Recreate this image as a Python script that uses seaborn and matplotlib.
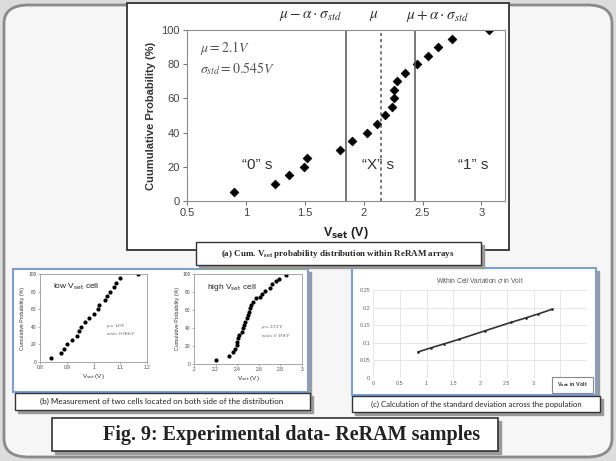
import seaborn as sns
import matplotlib.pyplot as plt
from matplotlib.patches import Rectangle, FancyBboxPatch

# (a) cumulative Vset distribution over the array
vset_main = [0.90, 1.25, 1.37, 1.49, 1.52, 1.80, 1.90, 2.03, 2.11, 2.18,
             2.24, 2.255, 2.26, 2.28, 2.355, 2.45, 2.55, 2.63, 2.75, 3.06]
prob_main = [5, 10, 15, 20, 25, 30, 35, 40, 45, 50,
             55, 60, 65, 70, 75, 80, 85, 90, 95, 100]
bounds = [1.85, 2.15, 2.44]   # mu - a*sigma, mu, mu + a*sigma
region_labels = ['“0” s', '“X” s', '“1” s']
region_x = [1.10, 2.12, 2.93]

# (b) two single cells
low_vset = [0.84, 0.879, 0.888, 0.90, 0.92, 0.94, 0.945, 0.953, 0.97, 0.984,
            1.00, 1.016, 1.022, 1.044, 1.052, 1.062, 1.078, 1.083, 1.10, 1.165]
low_prob = [5, 10, 15, 20, 25, 30, 35, 40, 45, 50,
            55, 60, 65, 70, 75, 80, 85, 90, 95, 100]
high_vset = [2.20, 2.324, 2.36, 2.38, 2.395, 2.40, 2.41, 2.42, 2.44, 2.45,
             2.46, 2.475, 2.49, 2.50, 2.51, 2.52, 2.53, 2.55, 2.57, 2.61,
             2.63, 2.66, 2.70, 2.725, 2.76, 2.79, 2.85]
high_prob = [5, 9, 13, 17, 21, 25, 29, 32, 36, 40,
             43, 47, 51, 54, 58, 62, 66, 69, 73, 75,
             78, 81, 85, 89, 92, 95, 99]

# (c) within-cell sigma vs Vset
sigma_vset = [0.84, 1.09, 1.33, 1.61, 2.09, 2.58, 2.86, 3.09, 3.34]
sigma_val = [0.074, 0.086, 0.097, 0.110, 0.134, 0.158, 0.171, 0.182, 0.195]

W, H = 616, 461
sns.set_style("white")
plt.rcParams['font.family'] = ['Liberation Sans', 'DejaVu Sans']
plt.rcParams['mathtext.fontset'] = 'dejavusans'

fig = plt.figure(figsize=(W / 100, H / 100), dpi=100)
fig.patch.set_facecolor('#dcdcdc')


def px_axes(l, t, r, b):
    return fig.add_axes([l / W, 1 - b / H, (r - l) / W, (b - t) / H])


def px_box(l, t, r, b, z=-5, shadow=False, **kw):
    if shadow:
        fig.add_artist(Rectangle(((l + 3) / W, 1 - (b + 3) / H), (r - l) / W, (b - t) / H,
                                 transform=fig.transFigure, color='#9a9a9a', zorder=z - 0.5))
    fig.add_artist(Rectangle((l / W, 1 - b / H), (r - l) / W, (b - t) / H,
                             transform=fig.transFigure, zorder=z, **kw))


def px_text(x, y, s, **kw):
    fig.text(x / W, 1 - y / H, s, ha='center', va='center', **kw)


# outer rounded frame
fig.add_artist(FancyBboxPatch((4 / W, 4 / H), 608 / W, 452 / H,
                              boxstyle='round,pad=0,rounding_size=0.04',
                              transform=fig.transFigure, fc='#f6f6f6', ec='#8a8a8a',
                              lw=2, zorder=-10))

# panel frames
px_box(127, 3, 509, 250, fc='white', ec='#333333', lw=1.3)
px_box(13, 269, 308, 392, fc='white', ec='#7b9fd6', lw=1.5, shadow=True)
px_box(352, 268, 596, 395, fc='white', ec='#7b9fd6', lw=1.5, shadow=True)

# ---- (a) main chart
ax = px_axes(187, 30, 505, 201)
sns.scatterplot(x=vset_main, y=prob_main, marker='D', s=20, color='black',
                edgecolor='black', linewidth=0.5, ax=ax)
ax.set_xlim(0.5, 3.2)
ax.set_ylim(0, 100)
ax.set_xticks([0.5, 1, 1.5, 2, 2.5, 3])
ax.set_xticklabels(['0.5', '1', '1.5', '2', '2.5', '3'])
ax.set_yticks(range(0, 101, 20))
ax.tick_params(labelsize=8, labelcolor='#444444', length=3, color='#777777',
               direction='out', bottom=True, left=True, pad=2)
for sp in ax.spines.values():
    sp.set_color('#8c8c8c')
for x, ls in zip(bounds, ['-', '--', '-']):
    ax.axvline(x, color='#555555', lw=1.1, ls=ls, dashes=(2, 2) if ls == '--' else (None, None))
ax.set_ylabel('Cuumulative Probability (%)', fontsize=8, fontweight='bold', color='#333333')
ax.set_xlabel(r'V$_{\mathbf{set}}$ (V)', fontsize=9, fontweight='bold', color='#222222',
              labelpad=5)
for s, x in zip(region_labels, region_x):
    ax.text(x, 21, s, fontsize=11, ha='center', va='center', color='#333333')
top_labels = [r'$\mu-\alpha\cdot\sigma_{std}$', r'$\mu$', r'$\mu+\alpha\cdot\sigma_{std}$']
for s, x in zip(top_labels, [1.55, 2.09, 2.63]):
    ax.text(x, 1.08, s, transform=ax.get_xaxis_transform(), fontsize=11, ha='center',
            va='center', color='#333333', math_fontfamily='stix')
ax.text(0.61, 87, r'$\mu=2.1V$', fontsize=10, color='#555555', math_fontfamily='stix')
ax.text(0.61, 75, r'$\sigma_{std}=0.545V$', fontsize=10, color='#555555', math_fontfamily='stix')

px_box(196, 242, 481, 265, z=5, shadow=True, fc='white', ec='#333333', lw=1)
px_text(338, 254, r'(a) Cum. V$_{\mathbf{set}}$ probability distribution within ReRAM arrays',
        fontsize=6.5, fontweight='bold', family='Liberation Serif', zorder=6,
        math_fontfamily='stix')

# ---- (b) two cells
cells = [(low_vset, low_prob, (40, 274, 147, 362), (0.8, 1.2), [0.8, 0.9, 1, 1.1, 1.2],
          r'low V$_{\mathrm{set}}$ cell', r'$\mu=1.0V$', r'$\sigma_{std}=0.086V$'),
         (high_vset, high_prob, (194, 274, 302, 364), (2, 3), [2, 2.2, 2.4, 2.6, 2.8, 3],
          r'high V$_{\mathrm{set}}$ cell', r'$\mu=2.52V$', r'$\sigma_{std}=0.158V$')]
for xs, ys, pos, xl, xt, title, mu_s, sd_s in cells:
    bx = px_axes(*pos)
    sns.scatterplot(x=xs, y=ys, s=9, color='black', edgecolor='black', linewidth=0, ax=bx)
    bx.set_xlim(*xl)
    bx.set_ylim(0, 100)
    bx.set_xticks(xt)
    bx.set_xticklabels([f'{v:g}' for v in xt])
    bx.set_yticks(range(0, 101, 20))
    bx.tick_params(labelsize=3.5, labelcolor='#444444', length=1.5, width=0.4,
                   color='#777777', bottom=True, left=True, pad=1)
    for sp in bx.spines.values():
        sp.set_color('#999999')
        sp.set_linewidth(0.6)
    bx.set_ylabel('Cumulative Probability (%)', fontsize=3.8, color='#333333', labelpad=2)
    bx.set_xlabel(r'V$_{\mathrm{set}}$ (V)', fontsize=4.5, color='#333333', labelpad=1)
    bx.text(0.12, 0.83, title, transform=bx.transAxes, fontsize=6, color='#222222')
    bx.text(0.62, 0.4, mu_s, transform=bx.transAxes, fontsize=3.8, color='#555555',
            math_fontfamily='stix')
    bx.text(0.62, 0.3, sd_s, transform=bx.transAxes, fontsize=3.8, color='#555555',
            math_fontfamily='stix')

px_box(15, 393, 310, 410, z=5, shadow=True, fc='white', ec='#333333', lw=1)
px_text(162, 401.5, '(b) Measurement of two cells located on both side of the distribution',
        fontsize=5.8, family='Lato', color='#222222', zorder=6)

# ---- (c) sigma vs Vset
cx = px_axes(373, 290, 587, 378)
sns.lineplot(x=sigma_vset, y=sigma_val, color='#333333', lw=1.2, marker='o',
             markersize=2, markeredgewidth=0, ax=cx)
cx.set_xlim(0, 4)
cx.set_ylim(0, 0.25)
cx.set_xticks([0, 0.5, 1, 1.5, 2, 2.5, 3, 3.5, 4])
cx.set_xticklabels(['0', '0.5', '1', '1.5', '2', '2.5', '3', '', ''])
cx.set_yticks([0, 0.05, 0.1, 0.15, 0.2, 0.25])
cx.set_yticklabels(['0', '0.05', '0.1', '0.15', '0.2', '0.25'])
cx.grid(True, color='#e2e2e2', lw=0.6)
cx.tick_params(labelsize=4, labelcolor='#666666', length=0, pad=2)
for sp in cx.spines.values():
    sp.set_visible(False)
cx.set_title(r'Within Cell Variation $\sigma$ in Volt', fontsize=4.8, color='#555555', pad=5)

px_box(552, 377, 593, 393, z=5, fc='white', ec='#888888', lw=0.8)
px_text(572.5, 385, r'V$_{\mathbf{set}}$ in Volt', fontsize=4, fontweight='bold',
        color='#333333', zorder=6)

px_box(352, 396, 600, 412, z=5, shadow=True, fc='white', ec='#333333', lw=1)
px_text(476, 404, '(c) Calculation of the standard deviation across the population',
        fontsize=5.6, family='Lato', color='#222222', zorder=6)

# ---- figure caption
px_box(52, 418, 498, 451, z=5, shadow=True, fc='white', ec='#333333', lw=1.2)
px_text(292, 435, 'Fig. 9: Experimental data- ReRAM samples', fontsize=14.5,
        fontweight='bold', family='Liberation Serif', color='#222222', zorder=6)

plt.savefig('out.png', dpi=100, facecolor=fig.get_facecolor())
